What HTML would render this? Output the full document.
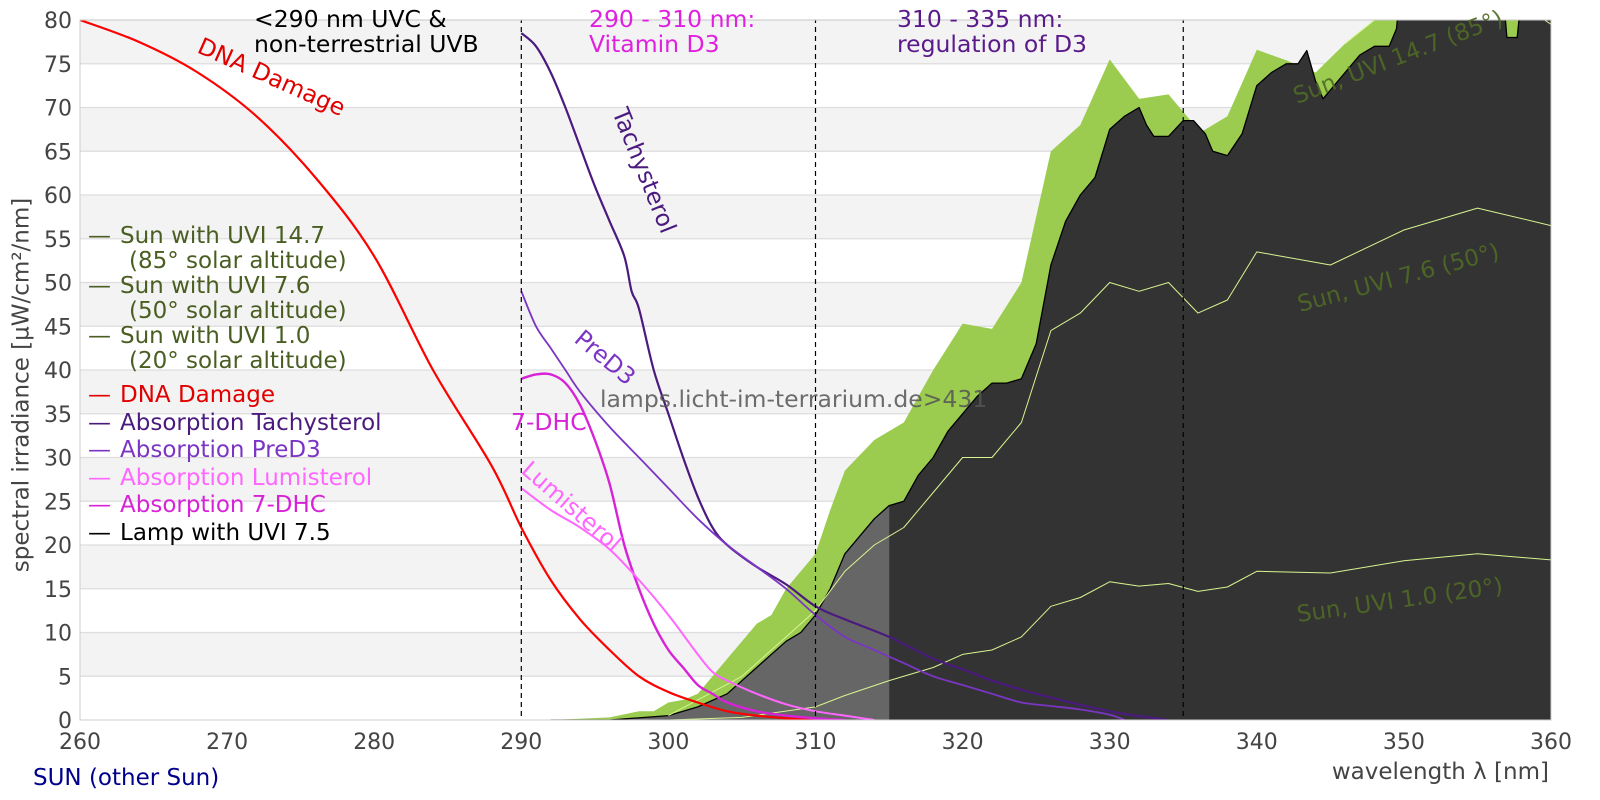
<!DOCTYPE html>
<html><head><meta charset="utf-8"><style>
html,body{margin:0;padding:0;background:#fff;width:1600px;height:800px;overflow:hidden}
svg text{font-family:"DejaVu Sans","Liberation Sans",sans-serif}
</style></head><body>
<svg id="s" width="1600" height="800" xmlns="http://www.w3.org/2000/svg">
<defs><clipPath id="cp"><rect x="80" y="20" width="1471" height="700"/></clipPath></defs>
<g id="bands"></g>
<g id="plot" clip-path="url(#cp)"></g>
<rect x="80" y="20" width="1471" height="700" fill="none" stroke="#ccc" stroke-width="1"/>
<g id="ticks" font-size="22" fill="#444"></g>
<text x="22" y="385" font-size="23" fill="#444" text-anchor="middle" transform="rotate(-90 22 385)" dominant-baseline="middle">spectral irradiance [µW/cm²/nm]</text>
<text x="1549" y="779" font-size="23" fill="#444" text-anchor="end">wavelength λ [nm]</text>
<text x="33" y="785" font-size="23" fill="#00008b">SUN (other Sun)</text>
<g font-size="23.5">
<text x="254" y="27" fill="#000">&lt;290 nm UVC &amp;</text>
<text x="254" y="52" fill="#000">non-terrestrial UVB</text>
<text x="589" y="27" fill="#e020e0">290 - 310 nm:</text>
<text x="589" y="52" fill="#e020e0">Vitamin D3</text>
<text x="897" y="27" fill="#5a1a8a">310 - 335 nm:</text>
<text x="897" y="52" fill="#5a1a8a">regulation of D3</text>
</g>
<g font-size="23">
<text x="88" y="243" fill="#4a5e22">—</text><text x="120" y="243" fill="#4a5e22">Sun with UVI 14.7</text>
<text x="129" y="268" fill="#4a5e22">(85° solar altitude)</text>
<text x="88" y="293" fill="#4a5e22">—</text><text x="120" y="293" fill="#4a5e22">Sun with UVI 7.6</text>
<text x="129" y="318" fill="#4a5e22">(50° solar altitude)</text>
<text x="88" y="343" fill="#4a5e22">—</text><text x="120" y="343" fill="#4a5e22">Sun with UVI 1.0</text>
<text x="129" y="368" fill="#4a5e22">(20° solar altitude)</text>
<text x="88" y="402" fill="#e00000">—</text><text x="120" y="402" fill="#e00000">DNA Damage</text>
<text x="88" y="430" fill="#4b1a7e">—</text><text x="120" y="430" fill="#4b1a7e">Absorption Tachysterol</text>
<text x="88" y="457" fill="#7b35c4">—</text><text x="120" y="457" fill="#7b35c4">Absorption PreD3</text>
<text x="88" y="485" fill="#ff66ff">—</text><text x="120" y="485" fill="#ff66ff">Absorption Lumisterol</text>
<text x="88" y="512" fill="#d822d8">—</text><text x="120" y="512" fill="#d822d8">Absorption 7-DHC</text>
<text x="88" y="540" fill="#000">—</text><text x="120" y="540" fill="#000">Lamp with UVI 7.5</text>
</g>
<g font-size="23.5">
<text x="196" y="52" fill="#e00000" transform="rotate(24 196 52)">DNA Damage</text>
<text x="612" y="112" fill="#4b1a7e" transform="rotate(68 612 112)">Tachysterol</text>
<text x="573" y="341" fill="#7b35c4" transform="rotate(40 573 341)">PreD3</text>
<text x="511" y="430" fill="#d822d8">7-DHC</text>
<text x="520" y="472" fill="#ff66ff" transform="rotate(41 520 472)">Lumisterol</text>
<text x="600" y="407" fill="#555" opacity="0.85">lamps.licht-im-terrarium.de&gt;431</text>
<text x="1297" y="104" fill="#4f6a25" opacity="0.9" font-size="23" transform="rotate(-21 1297 104)">Sun, UVI 14.7 (85°)</text>
<text x="1300" y="312" fill="#4f6a25" opacity="0.9" font-size="23" transform="rotate(-15 1300 312)">Sun, UVI 7.6 (50°)</text>
<text x="1298" y="622" fill="#4f6a25" opacity="0.9" font-size="23" transform="rotate(-8 1298 622)">Sun, UVI 1.0 (20°)</text>
</g>
</svg>
<script>
var X=function(n){return 80+(n-260)*14.71},Y=function(v){return 720-v*8.75};
var NS="http://www.w3.org/2000/svg";
function el(p,t,a){var e=document.createElementNS(NS,t);for(var k in a)e.setAttribute(k,a[k]);document.getElementById(p).appendChild(e);return e}
for(var v=5;v<80;v+=10){el("bands","rect",{x:80,y:Y(v+5),width:1471,height:8.75*5,fill:"#f3f3f3"})}
for(var v=5;v<=80;v+=5){el("bands","line",{x1:80,x2:1551,y1:Y(v),y2:Y(v),stroke:"#ddd","stroke-width":1.2})}
function pts(a){return a.map(function(p){return X(p[0]).toFixed(1)+","+Y(p[1]).toFixed(1)}).join(" ")}
function area(a,f){var b=a.slice();b.push([a[a.length-1][0],0]);b.unshift([a[0][0],0]);el("plot","polygon",{points:pts(b),fill:f})}
function line(a,c,w){el("plot","polyline",{points:pts(a),fill:"none",stroke:c,"stroke-width":w,"stroke-linejoin":"round"})}
function smooth(a,c,w){var P=a.map(function(p){return[X(p[0]),Y(p[1])]});var d="M"+P[0][0]+","+P[0][1];
for(var i=0;i<P.length-1;i++){var p0=P[Math.max(0,i-1)],p1=P[i],p2=P[i+1],p3=P[Math.min(P.length-1,i+2)];
var c1=[p1[0]+(p2[0]-p0[0])/6,p1[1]+(p2[1]-p0[1])/6],c2=[p2[0]-(p3[0]-p1[0])/6,p2[1]-(p3[1]-p1[1])/6];
d+=" C"+c1[0].toFixed(1)+","+c1[1].toFixed(1)+" "+c2[0].toFixed(1)+","+c2[1].toFixed(1)+" "+p2[0].toFixed(1)+","+p2[1].toFixed(1)}
el("plot","path",{d:d,fill:"none",stroke:c,"stroke-width":w,"stroke-linejoin":"round"})}
var sun85=[[292,0],[296,0.3],[298,1],[299,1],[300,2],[301,2.3],[302,3],[303,5],[304,7],[305,9],[306,11],[307,12],[308,15],[309,17],[310,19],[311,24],[312,28.5],[314,32],[316,34],[318,40],[320,45.3],[322,44.7],[324,50],[326,65],[328,68],[330,75.5],[332,71],[334,71.5],[335.5,68.5],[336,67],[338,69],[340,76.6],[342,75.4],[344,74],[346,77.3],[348,80],[351,82.5],[355,84],[357,83],[360,79.5]];
area(sun85,"#9bcc50");
var lamp=[[292,0],[296,0],[300,0.5],[302,1.5],[304,3],[306,6],[308,9],[309,10],[310,12],[311,15],[312,19],[313,21],[314,23],[315,24.5],[316,25],[317,28],[318,30],[319,33],[320,35],[321,37],[322,38.5],[323,38.5],[324,39],[325,43],[326,52],[327,57],[328,60],[329,62],[330,67.5],[331,69],[332,70],[332.5,68],[333,66.7],[334,66.7],[335,68.5],[335.7,68.5],[336.5,67],[337,65],[338,64.5],[339,67],[340,72.5],[341,74],[342,75],[342.8,75],[343.4,76.5],[344,73],[344.5,71],[345,72],[346,74],[347,76],[348,77],[349,77],[349.5,79],[350,88],[356.5,88],[357,78],[357.7,78],[358.3,88],[360,88]];
var lampA=lamp.filter(function(p){return p[0]<=315});
var lampB=lamp.filter(function(p){return p[0]>=315});
area(lampA,"#666");area(lampB,"#333");
line(lamp,"#000",1.3);
var s50=[[300,0.5],[305,5],[308,9.5],[310,12.5],[312,17],[314,20],[316,22],[318,26],[320,30],[322,30],[324,34],[326,44.5],[328,46.5],[330,50],[332,49],[334,50],[336,46.5],[338,48],[340,53.5],[345,52],[350,56],[355,58.5],[360,56.5]];
var s20=[[300,0],[305,0.3],[310,1.5],[312,2.8],[315,4.5],[318,6],[320,7.5],[322,8],[324,9.5],[326,13],[328,14],[330,15.8],[332,15.3],[334,15.6],[336,14.7],[338,15.2],[340,17],[345,16.8],[350,18.2],[355,19],[360,18.3]];
line(s50,"#d8f590",1);line(s20,"#d8f590",1);line(sun85.filter(function(p){return p[0]>=346}),"#d8f590",1);
smooth([[260,80],[264,77.5],[268,74],[272,69],[276,62],[280,53],[284,40],[288,29],[290,22],[292,16],[294,11.5],[296,8],[298,5],[300,3.2],[302,2],[304,1],[306,0.5],[308,0.2],[310,0]],"#f00",2.2);
smooth([[290,78.5],[291,77],[292,74],[293,70],[294,65.5],[295,61],[296,57],[297,53],[297.5,49],[298,47],[299,40],[300,35],[301,30],[302,25.5],[303,22],[304,20],[306,17.5],[308,15.5],[310,13],[312,11.5],[315,9.5],[318,7],[320,5.8],[322,4.5],[325,3],[330,1],[334,0]],"#4b1a7e",2.2);
smooth([[290,49],[291,45],[292,42.5],[293,40],[294,37.5],[296,33.5],[298,30],[300,26.5],[302,23],[304,20],[306,17.5],[308,15],[310,12],[312,9.5],[314,8],[316,6.5],[318,5],[320,4],[322,3],[324,2],[326,1.6],[328,1.2],[330,0.6],[331,0]],"#7b35c4",1.8);
smooth([[290,39],[291,39.5],[292,39.5],[293,38.5],[294,36],[295,32],[296,27],[297,20],[298,15],[299,11],[300,8],[301,6],[302,4],[303,3],[304,2],[306,1],[308,0.5],[310,0.2],[312,0]],"#d822d8",2.4);
smooth([[290,26.5],[292,24],[294,22],[296,19.5],[298,16],[300,12],[302,7.5],[303,5.5],[304,4.5],[306,3],[308,1.8],[310,1],[312,0.5],[314,0]],"#ff66ff",2);
[290,310,335].forEach(function(n){el("plot","line",{x1:X(n),x2:X(n),y1:0,y2:720,stroke:"#000","stroke-width":1.2,"stroke-dasharray":"5,4"})});
for(var v=0;v<=80;v+=5){var t=el("ticks","text",{x:72,y:Y(v)+8,"text-anchor":"end"});t.textContent=v}
for(var n=260;n<=360;n+=10){var t=el("ticks","text",{x:X(n),y:749,"text-anchor":"middle"});t.textContent=n}
</script>
</body></html>
